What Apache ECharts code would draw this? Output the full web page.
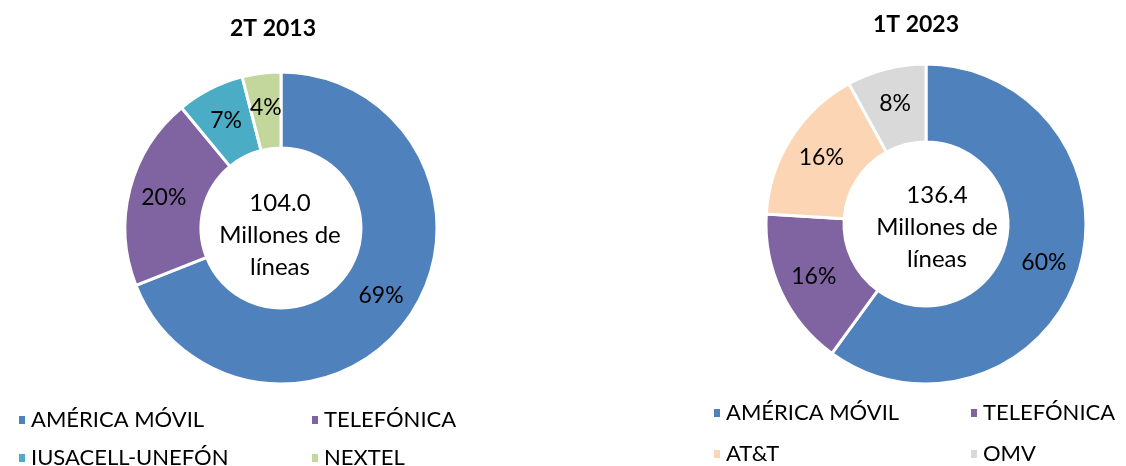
<!DOCTYPE html>
<html>
<head>
<meta charset="utf-8">
<script src="https://cdn.jsdelivr.net/npm/echarts@6/dist/echarts.min.js"></script>
<style>
  html, body { margin: 0; padding: 0; background: #fff; }
  #chart { width: 1126px; height: 466px; }
</style>
</head>
<body>
<div id="chart"></div>
<script>
// datos
const cats2013 = ['AMÉRICA MÓVIL', 'TELEFÓNICA', 'IUSACELL-UNEFÓN', 'NEXTEL'];
const vals2013 = [69, 20, 7, 4];
const cats2023 = ['AMÉRICA MÓVIL', 'TELEFÓNICA', 'AT&T', 'OMV'];
const vals2023 = [60, 16, 16, 8];
const totals = ['104.0', '136.4'];
const periods = ['2T 2013', '1T 2023'];

const colorMap = {
  'AMÉRICA MÓVIL': '#4F81BD',
  'TELEFÓNICA': '#8064A2',
  'IUSACELL-UNEFÓN': '#4BACC6',
  'NEXTEL': '#C3D69B',
  'AT&T': '#FCD5B5',
  'OMV': '#D9D9D9'
};

const FONT = 'Lato, "Open Sans", sans-serif';

const toData = (cats, vals) => cats.map((c, i) => ({
  name: c,
  value: vals[i],
  itemStyle: { color: colorMap[c] }
}));

const pieSeries = (cats, vals, center, radius) => ({
  type: 'pie',
  center: center,
  radius: radius,
  startAngle: 90,
  clockwise: true,
  data: toData(cats, vals),
  itemStyle: { borderColor: '#fff', borderWidth: 3 },
  label: {
    show: true,
    position: 'inside',
    formatter: '{c}%',
    fontFamily: FONT,
    fontSize: 23,
    color: '#000'
  },
  labelLine: { show: false },
  emphasis: { disabled: true },
  silent: true
});

// una fila de leyenda con columnas fijas
const legendRow = (names, left, top, textW, gap) => ({
  data: names,
  left: left,
  top: top,
  width: 800,
  orient: 'horizontal',
  icon: 'rect',
  itemWidth: 8,
  itemHeight: 10,
  itemGap: gap,
  selectedMode: false,
  textStyle: {
    fontFamily: FONT,
    fontSize: 22,
    color: '#000',
    width: textW,
    lineHeight: 26
  }
});

const centerText = (i, x, top) => ({
  text: totals[i] + '\nMillones de\nlíneas',
  left: x,
  top: top,
  textAlign: 'center',
  textStyle: {
    fontFamily: FONT,
    fontSize: 24,
    fontWeight: 'normal',
    lineHeight: 32,
    color: '#000'
  }
});

const chart = echarts.init(document.getElementById('chart'));
chart.setOption({
  animation: false,
  backgroundColor: '#fff',
  title: [
    { text: periods[0], left: 268, top: 12, textAlign: 'center',
      textStyle: { fontFamily: FONT, fontSize: 23, fontWeight: 'bold', color: '#000' } },
    { text: periods[1], left: 911, top: 8, textAlign: 'center',
      textStyle: { fontFamily: FONT, fontSize: 23, fontWeight: 'bold', color: '#000' } },
    centerText(0, 275, 182),
    centerText(1, 932, 174)
  ],
  legend: [
    legendRow([cats2013[0], cats2013[1]], 12, 402, 250, 29),
    legendRow([cats2013[2], cats2013[3]], 12, 440, 250, 29),
    legendRow([cats2023[0], cats2023[1]], 707, 395, 220, 23),
    legendRow([cats2023[2], cats2023[3]], 707, 436, 220, 23)
  ],
  series: [
    pieSeries(cats2013, vals2013, [281, 228], [80, 156]),
    pieSeries(cats2023, vals2023, [926, 224], [82, 160])
  ]
});
</script>
</body>
</html>
